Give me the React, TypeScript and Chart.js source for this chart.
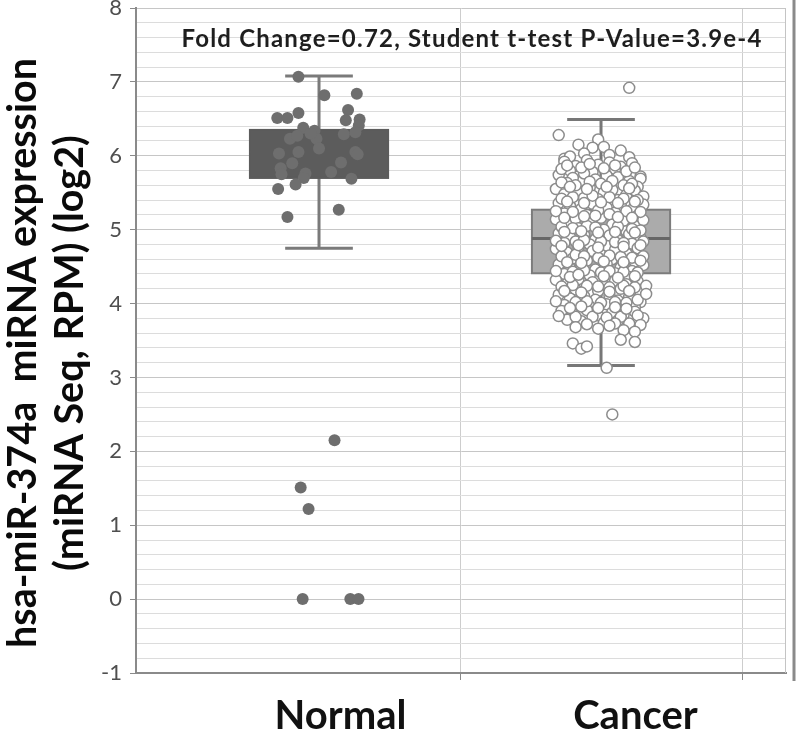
import React, { useEffect, useRef } from 'react';
import { Chart, registerables } from 'chart.js';

Chart.register(...registerables);

// ---------- data ----------
const CATEGORIES = ['Normal', 'Cancer'];
const CATEGORY_CENTERS = [0.5, 1.5];
const LABEL_POSITIONS = [0.576, 1.622];
const GRID_X = [1, 2];
const X_MIN = -0.149;
const X_MAX = 2.156;
const Y_MIN = -1;
const Y_MAX = 8;

const BOX_Q1 = [5.7, 4.41];
const BOX_MEDIAN = [6.05, 4.88];
const BOX_Q3 = [6.35, 5.27];
const WHISKER_LOW = [4.75, 3.16];
const WHISKER_HIGH = [7.08, 6.49];

const ANNOTATION = 'Fold Change=0.72, Student t-test P-Value=3.9e-4';
const ANNOTATION_Y = 7.47;
const Y_TITLE = ['hsa-miR-374a  miRNA expression', '(miRNA Seq, RPM) (log2)'];

const NORMAL_POINTS: [number, number][] = [
  [0.427, 7.07], [0.519, 6.82], [0.634, 6.84], [0.352, 6.51], [0.388, 6.51],
  [0.427, 6.58], [0.603, 6.62], [0.595, 6.48], [0.644, 6.49], [0.641, 6.41],
  [0.444, 6.38], [0.484, 6.34], [0.397, 6.23], [0.423, 6.27], [0.491, 6.23],
  [0.588, 6.29], [0.629, 6.32], [0.358, 6.03], [0.427, 6.05], [0.629, 6.05],
  [0.637, 6.02], [0.578, 5.91], [0.364, 5.83], [0.367, 5.75], [0.452, 5.76],
  [0.446, 5.7], [0.543, 5.78], [0.615, 5.69], [0.417, 5.61], [0.355, 5.55],
  [0.57, 5.27], [0.388, 5.17], [0.47, 6.3], [0.5, 6.1], [0.405, 5.9],
  [0.435, 1.51], [0.463, 1.22], [0.555, 2.15], [0.442, 0.0], [0.611, 0.0], [0.64, 0.0],
];

const CANCER_POINTS: [number, number][] = [
  // top outliers and sparse tops
  [1.6, 6.92], [1.35, 6.28], [1.42, 6.15], [1.49, 6.22], [1.47, 6.11], [1.51, 6.12],
  [1.57, 6.07], [1.37, 5.96], [1.39, 5.99], [1.44, 6.03], [1.53, 6.01], [1.6, 5.98], [1.64, 5.72],
  // layer A
  [1.37, 5.92], [1.41, 5.86], [1.45, 5.94], [1.49, 5.88], [1.53, 5.91], [1.57, 5.85], [1.61, 5.9],
  [1.39, 5.8], [1.47, 5.78], [1.55, 5.82],
  [1.35, 5.74], [1.4, 5.7], [1.44, 5.76], [1.48, 5.68], [1.52, 5.73], [1.56, 5.71], [1.6, 5.66],
  [1.64, 5.69], [1.38, 5.63], [1.5, 5.62], [1.58, 5.6], [1.63, 5.58],
  [1.34, 5.55], [1.37, 5.48], [1.42, 5.52], [1.46, 5.57], [1.51, 5.5], [1.54, 5.54], [1.59, 5.47],
  [1.62, 5.53], [1.65, 5.45], [1.44, 5.43], [1.49, 5.41], [1.56, 5.4],
  [1.35, 5.36], [1.39, 5.32], [1.43, 5.28], [1.47, 5.35], [1.52, 5.3], [1.57, 5.33], [1.61, 5.27],
  [1.65, 5.34], [1.37, 5.22], [1.45, 5.2], [1.55, 5.23], [1.63, 5.19],
  [1.34, 5.14], [1.38, 5.08], [1.41, 5.15], [1.46, 5.11], [1.5, 5.16], [1.54, 5.07], [1.58, 5.12],
  [1.62, 5.05], [1.65, 5.13], [1.42, 5.02], [1.51, 5.0], [1.59, 4.98],
  [1.35, 4.95], [1.39, 4.9], [1.44, 4.93], [1.48, 4.87], [1.53, 4.92], [1.56, 4.86], [1.6, 4.94],
  [1.64, 4.89], [1.37, 4.82], [1.46, 4.8], [1.52, 4.78], [1.61, 4.81],
  [1.34, 4.74], [1.38, 4.69], [1.42, 4.76], [1.47, 4.71], [1.5, 4.66], [1.55, 4.73], [1.59, 4.68],
  [1.63, 4.75], [1.4, 4.61], [1.45, 4.58], [1.54, 4.6], [1.62, 4.57],
  [1.35, 4.53], [1.39, 4.48], [1.43, 4.51], [1.48, 4.46], [1.52, 4.54], [1.57, 4.49], [1.61, 4.44],
  [1.65, 4.52], [1.37, 4.4], [1.46, 4.38], [1.55, 4.41], [1.6, 4.36],
  [1.34, 4.32], [1.38, 4.27], [1.42, 4.33], [1.47, 4.29], [1.51, 4.25], [1.55, 4.31], [1.59, 4.26],
  [1.63, 4.3], [1.41, 4.19], [1.49, 4.17], [1.57, 4.2], [1.64, 4.16],
  [1.35, 4.12], [1.39, 4.07], [1.44, 4.1], [1.48, 4.05], [1.53, 4.11], [1.56, 4.04], [1.6, 4.09],
  [1.64, 4.02], [1.37, 3.98], [1.46, 3.96], [1.52, 3.99], [1.62, 3.95],
  [1.36, 3.9], [1.4, 3.86], [1.45, 3.91], [1.49, 3.84], [1.54, 3.88], [1.58, 3.85], [1.62, 3.89],
  [1.38, 3.78], [1.43, 3.76], [1.51, 3.74], [1.56, 3.77], [1.6, 3.73], [1.65, 3.8],
  // layer B
  [1.36, 5.82], [1.43, 5.84], [1.51, 5.83], [1.59, 5.79],
  [1.36, 5.64], [1.41, 5.6], [1.46, 5.65], [1.54, 5.66], [1.61, 5.62],
  [1.36, 5.42], [1.4, 5.44], [1.47, 5.46], [1.53, 5.44], [1.58, 5.42], [1.63, 5.4],
  [1.34, 5.25], [1.4, 5.24], [1.49, 5.26], [1.53, 5.21], [1.59, 5.25], [1.64, 5.24],
  [1.36, 5.04], [1.4, 5.02], [1.45, 5.05], [1.48, 5.03], [1.56, 5.04], [1.61, 5.01], [1.64, 4.99],
  [1.34, 4.85], [1.41, 4.84], [1.44, 4.86], [1.5, 4.84], [1.55, 4.83], [1.58, 4.82], [1.65, 4.84],
  [1.36, 4.64], [1.41, 4.66], [1.44, 4.64], [1.49, 4.62], [1.53, 4.65], [1.57, 4.63], [1.61, 4.62], [1.65, 4.64],
  [1.34, 4.44], [1.4, 4.43], [1.44, 4.45], [1.5, 4.42], [1.53, 4.44], [1.58, 4.43], [1.63, 4.42],
  [1.36, 4.23], [1.4, 4.25], [1.45, 4.24], [1.49, 4.23], [1.53, 4.22], [1.58, 4.24], [1.62, 4.22], [1.66, 4.24],
  [1.34, 4.03], [1.41, 4.02], [1.45, 4.03], [1.5, 4.01], [1.55, 4.02], [1.59, 4.01], [1.63, 4.05],
  [1.35, 3.83], [1.41, 3.82], [1.47, 3.82], [1.52, 3.81], [1.57, 3.82], [1.63, 3.84],
  // layer C
  [1.38, 5.87], [1.46, 5.89], [1.55, 5.87], [1.62, 5.84],
  [1.39, 5.58], [1.45, 5.55], [1.52, 5.58], [1.6, 5.56],
  [1.38, 5.38], [1.44, 5.36], [1.5, 5.37], [1.56, 5.36], [1.62, 5.38],
  [1.37, 5.16], [1.44, 5.18], [1.48, 5.19], [1.56, 5.17], [1.61, 5.16],
  [1.37, 4.97], [1.43, 4.98], [1.49, 4.96], [1.55, 4.97], [1.62, 4.96],
  [1.36, 4.78], [1.42, 4.79], [1.49, 4.76], [1.58, 4.77], [1.64, 4.79],
  [1.38, 4.56], [1.43, 4.55], [1.51, 4.57], [1.58, 4.56], [1.64, 4.58],
  [1.39, 4.36], [1.42, 4.39], [1.51, 4.37], [1.56, 4.35], [1.62, 4.37],
  [1.37, 4.17], [1.43, 4.15], [1.53, 4.16], [1.6, 4.17], [1.66, 4.13],
  [1.39, 3.94], [1.43, 3.96], [1.49, 3.94], [1.55, 3.95], [1.59, 3.93],
  [1.45, 3.72], [1.55, 3.73], [1.64, 3.71],
  // bottom tail
  [1.41, 3.68], [1.49, 3.66], [1.53, 3.7], [1.58, 3.64], [1.62, 3.62],
  [1.4, 3.46], [1.43, 3.39], [1.45, 3.42], [1.57, 3.51], [1.62, 3.48], [1.52, 3.13], [1.54, 2.5],
];

// ---------- styles ----------
const FONT = "Lato, 'Open Sans', sans-serif";
const BOX_WIDTH = 0.49;
const CAP_WIDTH = 0.24;
const BOX_FILL = ['#5c5c5c', '#ababab'];
const BOX_BORDER = ['#5c5c5c', '#7c7c7c'];
const MEDIAN_COLOR = ['#5c5c5c', '#666666'];
const WHISKER_COLOR = ['#7a7a7a', '#777777'];

const isInt = (v: number) => Math.abs(v - Math.round(v)) < 1e-6;

const boxPlugin = {
  id: 'boxes',
  beforeDatasetsDraw(chart: any) {
    const { ctx } = chart;
    const xs = chart.scales.x;
    const ys = chart.scales.y;
    ctx.save();
    CATEGORIES.forEach((_, i) => {
      const c = CATEGORY_CENTERS[i];
      const cx = xs.getPixelForValue(c);
      const bl = xs.getPixelForValue(c - BOX_WIDTH / 2);
      const br = xs.getPixelForValue(c + BOX_WIDTH / 2);
      const cl = xs.getPixelForValue(c - CAP_WIDTH / 2);
      const cr = xs.getPixelForValue(c + CAP_WIDTH / 2);
      const yq1 = ys.getPixelForValue(BOX_Q1[i]);
      const yq3 = ys.getPixelForValue(BOX_Q3[i]);
      const ym = ys.getPixelForValue(BOX_MEDIAN[i]);
      const ylo = ys.getPixelForValue(WHISKER_LOW[i]);
      const yhi = ys.getPixelForValue(WHISKER_HIGH[i]);
      ctx.strokeStyle = WHISKER_COLOR[i];
      ctx.lineWidth = 3;
      ctx.beginPath();
      ctx.moveTo(cx, yhi);
      ctx.lineTo(cx, ylo);
      ctx.moveTo(cl, yhi);
      ctx.lineTo(cr, yhi);
      ctx.moveTo(cl, ylo);
      ctx.lineTo(cr, ylo);
      ctx.stroke();
      ctx.fillStyle = BOX_FILL[i];
      ctx.fillRect(bl, yq3, br - bl, yq1 - yq3);
      ctx.strokeStyle = BOX_BORDER[i];
      ctx.lineWidth = 2;
      ctx.strokeRect(bl, yq3, br - bl, yq1 - yq3);
      ctx.strokeStyle = MEDIAN_COLOR[i];
      ctx.lineWidth = 3;
      ctx.beginPath();
      ctx.moveTo(bl, ym);
      ctx.lineTo(br, ym);
      ctx.stroke();
    });
    ctx.restore();
  },
};

const textPlugin = {
  id: 'texts',
  afterDraw(chart: any) {
    const { ctx, chartArea } = chart;
    const ys = chart.scales.y;
    ctx.save();
    // annotation
    ctx.fillStyle = '#1e1e1e';
    ctx.font = `bold 24px ${FONT}`;
    (ctx as any).letterSpacing = '1.2px';
    ctx.textAlign = 'center';
    ctx.textBaseline = 'alphabetic';
    ctx.fillText(ANNOTATION, (chartArea.left + chartArea.right) / 2 + 11, ys.getPixelForValue(ANNOTATION_Y));
    (ctx as any).letterSpacing = '0px';
    // right frame
    ctx.strokeStyle = '#c4c4c4';
    ctx.lineWidth = 1;
    ctx.beginPath();
    ctx.moveTo(chartArea.right - 0.5, chartArea.top);
    ctx.lineTo(chartArea.right - 0.5, chartArea.bottom);
    ctx.stroke();
    ctx.strokeStyle = '#8a8a8a';
    ctx.lineWidth = 3;
    ctx.beginPath();
    ctx.moveTo(chartArea.right + 8, chartArea.top - 8);
    ctx.lineTo(chartArea.right + 8, chartArea.bottom + 8);
    ctx.stroke();
    // y title
    ctx.fillStyle = '#0a0a0a';
    ctx.font = `bold 39.5px ${FONT}`;
    ctx.textBaseline = 'middle';
    const cy = 353;
    [23, 70].forEach((x, i) => {
      ctx.save();
      ctx.translate(x, cy);
      ctx.rotate(-Math.PI / 2);
      ctx.fillText(Y_TITLE[i], 0, 0);
      ctx.restore();
    });
    ctx.restore();
  },
};

export default function App() {
  const ref = useRef<HTMLCanvasElement>(null);
  useEffect(() => {
    document.body.style.margin = '0';
    const canvas = ref.current!;
    const chart = new Chart(canvas, {
      type: 'scatter',
      data: {
        datasets: [
          {
            data: NORMAL_POINTS.map(([x, y]) => ({ x, y })),
            pointRadius: 6,
            backgroundColor: '#6e6e6e',
            borderColor: '#6e6e6e',
            borderWidth: 0,
          },
          {
            data: CANCER_POINTS.map(([x, y]) => ({ x, y })),
            pointRadius: 5.5,
            backgroundColor: '#ffffff',
            borderColor: '#8c8c8c',
            borderWidth: 1.5,
          },
        ],
      },
      options: {
        responsive: false,
        animation: false,
        events: [],
        layout: { padding: { top: 8, right: 14, left: 0, bottom: 0 } },
        plugins: { legend: { display: false }, tooltip: { enabled: false } },
        scales: {
          x: {
            type: 'linear',
            position: 'bottom',
            min: X_MIN,
            max: X_MAX,
            afterBuildTicks: (s: any) => {
              s.ticks = GRID_X.map((v) => ({ value: v }));
            },
            ticks: { display: false },
            grid: { color: '#cdcdcd', lineWidth: 1, drawTicks: true, tickLength: 7, tickColor: '#8a8a8a' },
            border: { display: true, color: '#8a8a8a', width: 2 },
            afterFit: (s: any) => {
              s.height = 8;
            },
          },
          xl: {
            type: 'linear',
            position: 'bottom',
            min: X_MIN,
            max: X_MAX,
            afterBuildTicks: (s: any) => {
              s.ticks = LABEL_POSITIONS.map((v) => ({ value: v }));
            },
            ticks: {
              callback: (_v: any, i: number) => CATEGORIES[i],
              font: { family: FONT, size: 40, weight: 'bold' },
              color: '#111111',
              padding: 11,
              maxRotation: 0,
              autoSkip: false,
            },
            grid: { display: false, drawTicks: false },
            border: { display: false },
            afterFit: (s: any) => {
              s.height = 50;
            },
          },
          y: {
            type: 'linear',
            min: Y_MIN,
            max: Y_MAX,
            ticks: {
              stepSize: 0.2,
              autoSkip: false,
              callback: (v: any) => (isInt(Number(v)) ? String(Math.round(Number(v))) : ''),
              font: { family: FONT, size: 22 },
              color: '#4f4f4f',
              padding: 8,
            },
            grid: {
              color: (c: any) => (isInt(c.tick.value) ? '#c6c6c6' : '#dcdcdc'),
              tickColor: (c: any) => (isInt(c.tick.value) ? '#8a8a8a' : 'rgba(0,0,0,0)'),
              tickLength: 6,
              lineWidth: 1,
            },
            border: { color: '#8a8a8a', width: 2 },
            afterFit: (s: any) => {
              s.width = 136;
              s.paddingTop = 0;
              s.paddingBottom = 0;
            },
          },
        },
      },
      plugins: [boxPlugin, textPlugin],
    });
    return () => chart.destroy();
  }, []);
  return (
    <div style={{ width: 800, height: 731 }}>
      <canvas ref={ref} width={800} height={731} style={{ display: 'block' }} />
    </div>
  );
}
